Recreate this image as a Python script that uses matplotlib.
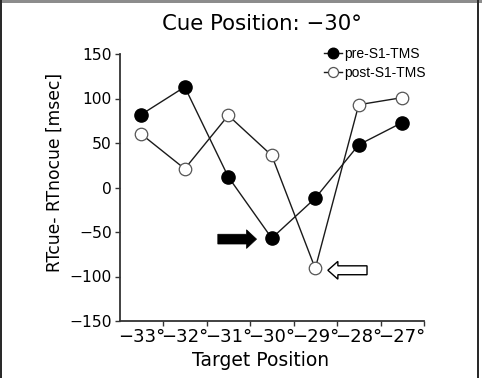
import matplotlib
matplotlib.use("Agg")
import matplotlib.pyplot as plt
from matplotlib.patches import Rectangle, FancyArrow
import numpy as np

# ---- data ----
targets = [-33, -32, -31, -30, -29, -28, -27]
tick_labels = ["\u221233\u00b0", "\u221232\u00b0", "\u221231\u00b0", "\u221230\u00b0",
               "\u221229\u00b0", "\u221228\u00b0", "\u221227\u00b0"]
pre_tms = [82, 113, 12, -57, -12, 48, 73]
post_tms = [60, 21, 81, 36, -91, 93, 101]
yticks = [-150, -100, -50, 0, 50, 100, 150]
title = "Cue Position: \u221230\u00b0"
xlabel = "Target Position"
ylabel = "RTcue- RTnocue [msec]"

W, H = 482, 378
fig = plt.figure(figsize=(W / 100, H / 100), dpi=100)
fig.patch.set_facecolor("white")

ax = fig.add_axes([119.5 / W, 1 - 321 / H, (424 - 119.5) / W, (321 - 54) / H])
ax.set_facecolor("white")

ax.plot(targets, pre_tms, color="#1a1a1a", lw=1.0, marker="o", ms=9.5,
        mfc="black", mec="black", label="pre-S1-TMS", zorder=3)
ax.plot(targets, post_tms, color="#1a1a1a", lw=1.0, marker="o", ms=9.0,
        mfc="white", mec="#555555", mew=0.9, label="post-S1-TMS", zorder=3)

ax.set_xlim(targets[0] - 0.5, targets[-1] + 0.5)
ax.set_ylim(yticks[0], yticks[-1])
ax.set_xticks(targets)
ax.set_xticklabels(tick_labels, fontsize=13)
ax.set_xticks(np.arange(targets[0] + 0.5, targets[-1] + 0.6, 1.0), minor=True)
ax.tick_params(axis="x", which="major", length=0, pad=5)
ax.tick_params(axis="x", which="minor", length=3.5, width=1.0, color="#333333", direction="out")
ax.set_yticks(yticks)
ax.set_yticklabels([("\u2212" + str(-v)) if v < 0 else str(v) for v in yticks], fontsize=11.2)
ax.tick_params(axis="y", length=3.5, width=1.0, color="#333333", pad=2)

for s in ["top", "right"]:
    ax.spines[s].set_visible(False)
for s in ["left", "bottom"]:
    ax.spines[s].set_color("#333333")
    ax.spines[s].set_linewidth(1.3)

ax.set_xlabel(xlabel, fontsize=13.5)
ax.xaxis.set_label_coords((261 - 119.5) / (424 - 119.5), -(360 - 321) / (321 - 54))
ax.xaxis.label.set_va("center")
ax.set_ylabel(ylabel, fontsize=12.3)
ax.yaxis.set_label_coords(-(119.5 - 55) / (424 - 119.5), (321 - 172) / (321 - 54))
ax.yaxis.label.set_va("center")
fig.text(262 / W, 1 - 24 / H, title, fontsize=15.3, ha="center", va="center")

# arrows pointing to minima
i_pre = int(np.argmin(pre_tms))
i_post = int(np.argmin(post_tms))
ax.add_patch(FancyArrow(targets[i_pre] - 1.24, pre_tms[i_pre] - 1, 0.89, 0,
                        width=11, head_width=21, head_length=0.23,
                        length_includes_head=True, fc="black", ec="black",
                        lw=0.5, zorder=4))
ax.add_patch(FancyArrow(targets[i_post] + 1.19, post_tms[i_post] - 2, -0.9, 0,
                        width=10, head_width=20, head_length=0.23,
                        length_includes_head=True, fc="white", ec="black",
                        lw=1.0, zorder=4))

leg = ax.legend(loc="upper left", bbox_to_anchor=(316 / W, 1 - 39 / H),
                bbox_transform=fig.transFigure, frameon=False,
                prop={"family": "Liberation Sans", "size": 10},
                handlelength=1.3, handletextpad=0.1, labelspacing=0.35,
                markerscale=0.8, borderpad=0.1)

# image frame
fig.patches.append(Rectangle((0, 1 - 2.5 / H), 1, 2.5 / H, transform=fig.transFigure,
                             facecolor="#8c8c8c", edgecolor="none", zorder=10))
fig.patches.append(Rectangle((0, 0), 2 / W, 1, transform=fig.transFigure,
                             facecolor="#2a2a2a", edgecolor="none", zorder=10))
fig.patches.append(Rectangle((476.5 / W, 0), 2 / W, 1, transform=fig.transFigure,
                             facecolor="#2a2a2a", edgecolor="none", zorder=10))

fig.savefig("out.png", dpi=100, facecolor="white")
